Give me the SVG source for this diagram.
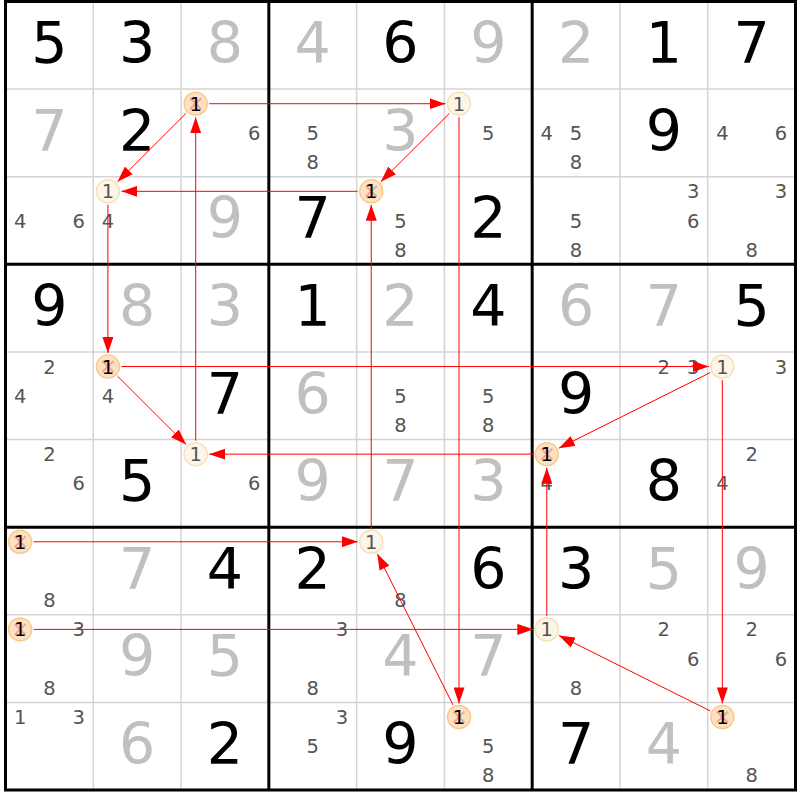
<svg xmlns="http://www.w3.org/2000/svg" width="800" height="800" viewBox="0 0 800 800">
<style>
text{font-family:"DejaVu Sans",Verdana,sans-serif;text-anchor:middle}
.g{font-size:57px;fill:#000}
.s{font-size:57px;fill:#c0c0c0}
.c{font-size:19.5px;fill:#555}
.cx{font-size:19.5px;fill:#000}
.thin{stroke:#d4d4d4;stroke-width:1.5}
.thick{stroke:#000;stroke-width:3}
.hp{fill:#fdf5e7;stroke:#f8e0b4;stroke-width:1.5}
.hx{fill:#fde2c2;stroke:#f8c987;stroke-width:1.5}
.x{stroke:#f29a9c;stroke-width:2;opacity:0.85}
#links line{stroke:#ff0000;stroke-width:1;marker-end:url(#ah)}
</style>
<defs>
<marker id="ah" markerUnits="userSpaceOnUse" markerWidth="16" markerHeight="11" refX="16" refY="5.5" orient="auto">
<path d="M0,0 L16,5.5 L0,11 z" fill="#ff0000"/>
</marker>
</defs>
<rect x="0" y="0" width="800" height="800" fill="#fff"/>
<g id="gridlines">
<line class="thin" x1="93.28" y1="1.5" x2="93.28" y2="790"/>
<line class="thin" x1="181.06" y1="1.5" x2="181.06" y2="790"/>
<line class="thin" x1="356.61" y1="1.5" x2="356.61" y2="790"/>
<line class="thin" x1="444.39" y1="1.5" x2="444.39" y2="790"/>
<line class="thin" x1="619.94" y1="1.5" x2="619.94" y2="790"/>
<line class="thin" x1="707.72" y1="1.5" x2="707.72" y2="790"/>
<line class="thin" x1="5.5" y1="89.11" x2="795.5" y2="89.11"/>
<line class="thin" x1="5.5" y1="176.72" x2="795.5" y2="176.72"/>
<line class="thin" x1="5.5" y1="351.94" x2="795.5" y2="351.94"/>
<line class="thin" x1="5.5" y1="439.56" x2="795.5" y2="439.56"/>
<line class="thin" x1="5.5" y1="614.78" x2="795.5" y2="614.78"/>
<line class="thin" x1="5.5" y1="702.39" x2="795.5" y2="702.39"/>
<line class="thick" x1="268.83" y1="1.5" x2="268.83" y2="790"/>
<line class="thick" x1="532.17" y1="1.5" x2="532.17" y2="790"/>
<line class="thick" x1="5.5" y1="264.33" x2="795.5" y2="264.33"/>
<line class="thick" x1="5.5" y1="527.17" x2="795.5" y2="527.17"/>
<rect x="5.5" y="1.5" width="790" height="788.5" fill="none" stroke="#000" stroke-width="3"/>
</g>
<!-- row 0 -->
<g id="r0c0" transform="translate(5.5,1.5)"><text class="g" x="43.89" y="61.6">5</text></g>
<g id="r0c1" transform="translate(93.28,1.5)"><text class="g" x="43.89" y="61.6">3</text></g>
<g id="r0c2" transform="translate(181.06,1.5)"><text class="s" x="43.89" y="61.6">8</text></g>
<g id="r0c3" transform="translate(268.83,1.5)"><text class="s" x="43.89" y="61.6">4</text></g>
<g id="r0c4" transform="translate(356.61,1.5)"><text class="g" x="43.89" y="61.6">6</text></g>
<g id="r0c5" transform="translate(444.39,1.5)"><text class="s" x="43.89" y="61.6">9</text></g>
<g id="r0c6" transform="translate(532.17,1.5)"><text class="s" x="43.89" y="61.6">2</text></g>
<g id="r0c7" transform="translate(619.94,1.5)"><text class="g" x="43.89" y="61.6">1</text></g>
<g id="r0c8" transform="translate(707.72,1.5)"><text class="g" x="43.89" y="61.6">7</text></g>
<!-- row 1 -->
<g id="r1c0" transform="translate(5.5,89.11)"><text class="s" x="43.89" y="61.6">7</text></g>
<g id="r1c1" transform="translate(93.28,89.11)"><text class="g" x="43.89" y="61.6">2</text></g>
<g id="r1c2" transform="translate(181.06,89.11)"><circle class="hx" cx="14.63" cy="14.6" r="11.5"/><path class="x" d="M9.13,9.1 L20.13,20.1 M20.13,9.1 L9.13,20.1"/><text class="cx" x="14.63" y="21.6">1</text><text class="c" x="73.15" y="50.8">6</text></g>
<g id="r1c3" transform="translate(268.83,89.11)"><text class="c" x="43.89" y="50.8">5</text><text class="c" x="43.89" y="80">8</text></g>
<g id="r1c4" transform="translate(356.61,89.11)"><text class="s" x="43.89" y="61.6">3</text></g>
<g id="r1c5" transform="translate(444.39,89.11)"><circle class="hp" cx="14.63" cy="14.6" r="11.5"/><text class="c" x="14.63" y="21.6">1</text><text class="c" x="43.89" y="50.8">5</text></g>
<g id="r1c6" transform="translate(532.17,89.11)"><text class="c" x="14.63" y="50.8">4</text><text class="c" x="43.89" y="50.8">5</text><text class="c" x="43.89" y="80">8</text></g>
<g id="r1c7" transform="translate(619.94,89.11)"><text class="g" x="43.89" y="61.6">9</text></g>
<g id="r1c8" transform="translate(707.72,89.11)"><text class="c" x="14.63" y="50.8">4</text><text class="c" x="73.15" y="50.8">6</text></g>
<!-- row 2 -->
<g id="r2c0" transform="translate(5.5,176.72)"><text class="c" x="14.63" y="50.8">4</text><text class="c" x="73.15" y="50.8">6</text></g>
<g id="r2c1" transform="translate(93.28,176.72)"><circle class="hp" cx="14.63" cy="14.6" r="11.5"/><text class="c" x="14.63" y="21.6">1</text><text class="c" x="14.63" y="50.8">4</text></g>
<g id="r2c2" transform="translate(181.06,176.72)"><text class="s" x="43.89" y="61.6">9</text></g>
<g id="r2c3" transform="translate(268.83,176.72)"><text class="g" x="43.89" y="61.6">7</text></g>
<g id="r2c4" transform="translate(356.61,176.72)"><circle class="hx" cx="14.63" cy="14.6" r="11.5"/><path class="x" d="M9.13,9.1 L20.13,20.1 M20.13,9.1 L9.13,20.1"/><text class="cx" x="14.63" y="21.6">1</text><text class="c" x="43.89" y="50.8">5</text><text class="c" x="43.89" y="80">8</text></g>
<g id="r2c5" transform="translate(444.39,176.72)"><text class="g" x="43.89" y="61.6">2</text></g>
<g id="r2c6" transform="translate(532.17,176.72)"><text class="c" x="43.89" y="50.8">5</text><text class="c" x="43.89" y="80">8</text></g>
<g id="r2c7" transform="translate(619.94,176.72)"><text class="c" x="73.15" y="21.6">3</text><text class="c" x="73.15" y="50.8">6</text></g>
<g id="r2c8" transform="translate(707.72,176.72)"><text class="c" x="73.15" y="21.6">3</text><text class="c" x="43.89" y="80">8</text></g>
<!-- row 3 -->
<g id="r3c0" transform="translate(5.5,264.33)"><text class="g" x="43.89" y="61.6">9</text></g>
<g id="r3c1" transform="translate(93.28,264.33)"><text class="s" x="43.89" y="61.6">8</text></g>
<g id="r3c2" transform="translate(181.06,264.33)"><text class="s" x="43.89" y="61.6">3</text></g>
<g id="r3c3" transform="translate(268.83,264.33)"><text class="g" x="43.89" y="61.6">1</text></g>
<g id="r3c4" transform="translate(356.61,264.33)"><text class="s" x="43.89" y="61.6">2</text></g>
<g id="r3c5" transform="translate(444.39,264.33)"><text class="g" x="43.89" y="61.6">4</text></g>
<g id="r3c6" transform="translate(532.17,264.33)"><text class="s" x="43.89" y="61.6">6</text></g>
<g id="r3c7" transform="translate(619.94,264.33)"><text class="s" x="43.89" y="61.6">7</text></g>
<g id="r3c8" transform="translate(707.72,264.33)"><text class="g" x="43.89" y="61.6">5</text></g>
<!-- row 4 -->
<g id="r4c0" transform="translate(5.5,351.94)"><text class="c" x="43.89" y="21.6">2</text><text class="c" x="14.63" y="50.8">4</text></g>
<g id="r4c1" transform="translate(93.28,351.94)"><circle class="hx" cx="14.63" cy="14.6" r="11.5"/><path class="x" d="M9.13,9.1 L20.13,20.1 M20.13,9.1 L9.13,20.1"/><text class="cx" x="14.63" y="21.6">1</text><text class="c" x="14.63" y="50.8">4</text></g>
<g id="r4c2" transform="translate(181.06,351.94)"><text class="g" x="43.89" y="61.6">7</text></g>
<g id="r4c3" transform="translate(268.83,351.94)"><text class="s" x="43.89" y="61.6">6</text></g>
<g id="r4c4" transform="translate(356.61,351.94)"><text class="c" x="43.89" y="50.8">5</text><text class="c" x="43.89" y="80">8</text></g>
<g id="r4c5" transform="translate(444.39,351.94)"><text class="c" x="43.89" y="50.8">5</text><text class="c" x="43.89" y="80">8</text></g>
<g id="r4c6" transform="translate(532.17,351.94)"><text class="g" x="43.89" y="61.6">9</text></g>
<g id="r4c7" transform="translate(619.94,351.94)"><text class="c" x="43.89" y="21.6">2</text><text class="c" x="73.15" y="21.6">3</text></g>
<g id="r4c8" transform="translate(707.72,351.94)"><circle class="hp" cx="14.63" cy="14.6" r="11.5"/><text class="c" x="14.63" y="21.6">1</text><text class="c" x="73.15" y="21.6">3</text></g>
<!-- row 5 -->
<g id="r5c0" transform="translate(5.5,439.56)"><text class="c" x="43.89" y="21.6">2</text><text class="c" x="73.15" y="50.8">6</text></g>
<g id="r5c1" transform="translate(93.28,439.56)"><text class="g" x="43.89" y="61.6">5</text></g>
<g id="r5c2" transform="translate(181.06,439.56)"><circle class="hp" cx="14.63" cy="14.6" r="11.5"/><text class="c" x="14.63" y="21.6">1</text><text class="c" x="73.15" y="50.8">6</text></g>
<g id="r5c3" transform="translate(268.83,439.56)"><text class="s" x="43.89" y="61.6">9</text></g>
<g id="r5c4" transform="translate(356.61,439.56)"><text class="s" x="43.89" y="61.6">7</text></g>
<g id="r5c5" transform="translate(444.39,439.56)"><text class="s" x="43.89" y="61.6">3</text></g>
<g id="r5c6" transform="translate(532.17,439.56)"><text class="c" x="14.63" y="50.8">4</text><circle class="hx" cx="14.63" cy="14.6" r="11.5"/><path class="x" d="M9.13,9.1 L20.13,20.1 M20.13,9.1 L9.13,20.1"/><text class="cx" x="14.63" y="21.6">1</text></g>
<g id="r5c7" transform="translate(619.94,439.56)"><text class="g" x="43.89" y="61.6">8</text></g>
<g id="r5c8" transform="translate(707.72,439.56)"><text class="c" x="43.89" y="21.6">2</text><text class="c" x="14.63" y="50.8">4</text></g>
<!-- row 6 -->
<g id="r6c0" transform="translate(5.5,527.17)"><circle class="hx" cx="14.63" cy="14.6" r="11.5"/><path class="x" d="M9.13,9.1 L20.13,20.1 M20.13,9.1 L9.13,20.1"/><text class="cx" x="14.63" y="21.6">1</text><text class="c" x="43.89" y="80">8</text></g>
<g id="r6c1" transform="translate(93.28,527.17)"><text class="s" x="43.89" y="61.6">7</text></g>
<g id="r6c2" transform="translate(181.06,527.17)"><text class="g" x="43.89" y="61.6">4</text></g>
<g id="r6c3" transform="translate(268.83,527.17)"><text class="g" x="43.89" y="61.6">2</text></g>
<g id="r6c4" transform="translate(356.61,527.17)"><circle class="hp" cx="14.63" cy="14.6" r="11.5"/><text class="c" x="14.63" y="21.6">1</text><text class="c" x="43.89" y="80">8</text></g>
<g id="r6c5" transform="translate(444.39,527.17)"><text class="g" x="43.89" y="61.6">6</text></g>
<g id="r6c6" transform="translate(532.17,527.17)"><text class="g" x="43.89" y="61.6">3</text></g>
<g id="r6c7" transform="translate(619.94,527.17)"><text class="s" x="43.89" y="61.6">5</text></g>
<g id="r6c8" transform="translate(707.72,527.17)"><text class="s" x="43.89" y="61.6">9</text></g>
<!-- row 7 -->
<g id="r7c0" transform="translate(5.5,614.78)"><circle class="hx" cx="14.63" cy="14.6" r="11.5"/><path class="x" d="M9.13,9.1 L20.13,20.1 M20.13,9.1 L9.13,20.1"/><text class="cx" x="14.63" y="21.6">1</text><text class="c" x="73.15" y="21.6">3</text><text class="c" x="43.89" y="80">8</text></g>
<g id="r7c1" transform="translate(93.28,614.78)"><text class="s" x="43.89" y="61.6">9</text></g>
<g id="r7c2" transform="translate(181.06,614.78)"><text class="s" x="43.89" y="61.6">5</text></g>
<g id="r7c3" transform="translate(268.83,614.78)"><text class="c" x="73.15" y="21.6">3</text><text class="c" x="43.89" y="80">8</text></g>
<g id="r7c4" transform="translate(356.61,614.78)"><text class="s" x="43.89" y="61.6">4</text></g>
<g id="r7c5" transform="translate(444.39,614.78)"><text class="s" x="43.89" y="61.6">7</text></g>
<g id="r7c6" transform="translate(532.17,614.78)"><circle class="hp" cx="14.63" cy="14.6" r="11.5"/><text class="c" x="14.63" y="21.6">1</text><text class="c" x="43.89" y="80">8</text></g>
<g id="r7c7" transform="translate(619.94,614.78)"><text class="c" x="43.89" y="21.6">2</text><text class="c" x="73.15" y="50.8">6</text></g>
<g id="r7c8" transform="translate(707.72,614.78)"><text class="c" x="43.89" y="21.6">2</text><text class="c" x="73.15" y="50.8">6</text></g>
<!-- row 8 -->
<g id="r8c0" transform="translate(5.5,702.39)"><text class="c" x="14.63" y="21.6">1</text><text class="c" x="73.15" y="21.6">3</text></g>
<g id="r8c1" transform="translate(93.28,702.39)"><text class="s" x="43.89" y="61.6">6</text></g>
<g id="r8c2" transform="translate(181.06,702.39)"><text class="g" x="43.89" y="61.6">2</text></g>
<g id="r8c3" transform="translate(268.83,702.39)"><text class="c" x="73.15" y="21.6">3</text><text class="c" x="43.89" y="50.8">5</text></g>
<g id="r8c4" transform="translate(356.61,702.39)"><text class="g" x="43.89" y="61.6">9</text></g>
<g id="r8c5" transform="translate(444.39,702.39)"><circle class="hx" cx="14.63" cy="14.6" r="11.5"/><path class="x" d="M9.13,9.1 L20.13,20.1 M20.13,9.1 L9.13,20.1"/><text class="cx" x="14.63" y="21.6">1</text><text class="c" x="43.89" y="50.8">5</text><text class="c" x="43.89" y="80">8</text></g>
<g id="r8c6" transform="translate(532.17,702.39)"><text class="g" x="43.89" y="61.6">7</text></g>
<g id="r8c7" transform="translate(619.94,702.39)"><text class="s" x="43.89" y="61.6">4</text></g>
<g id="r8c8" transform="translate(707.72,702.39)"><circle class="hx" cx="14.63" cy="14.6" r="11.5"/><path class="x" d="M9.13,9.1 L20.13,20.1 M20.13,9.1 L9.13,20.1"/><text class="cx" x="14.63" y="21.6">1</text><text class="c" x="43.89" y="80">8</text></g>
<g id="links">
<line x1="209.19" y1="103.71" x2="445.52" y2="103.71"/>
<line x1="449.46" y1="113.25" x2="380.80" y2="181.78"/>
<line x1="357.74" y1="191.32" x2="121.41" y2="191.32"/>
<line x1="186.14" y1="113.25" x2="117.47" y2="181.78"/>
<line x1="107.91" y1="204.82" x2="107.91" y2="353.04"/>
<line x1="117.47" y1="376.08" x2="186.14" y2="444.62"/>
<line x1="195.69" y1="440.66" x2="195.69" y2="117.21"/>
<line x1="121.41" y1="366.54" x2="708.85" y2="366.54"/>
<line x1="710.27" y1="372.57" x2="558.88" y2="448.13"/>
<line x1="533.30" y1="454.16" x2="209.19" y2="454.16"/>
<line x1="722.35" y1="380.04" x2="722.35" y2="703.49"/>
<line x1="710.27" y1="710.96" x2="558.88" y2="635.41"/>
<line x1="546.80" y1="615.88" x2="546.80" y2="467.66"/>
<line x1="33.63" y1="629.38" x2="533.30" y2="629.38"/>
<line x1="33.63" y1="541.77" x2="357.74" y2="541.77"/>
<line x1="371.24" y1="528.27" x2="371.24" y2="204.82"/>
<line x1="459.02" y1="117.21" x2="459.02" y2="703.49"/>
<line x1="452.97" y1="704.92" x2="377.29" y2="553.84"/>
</g>
</svg>
